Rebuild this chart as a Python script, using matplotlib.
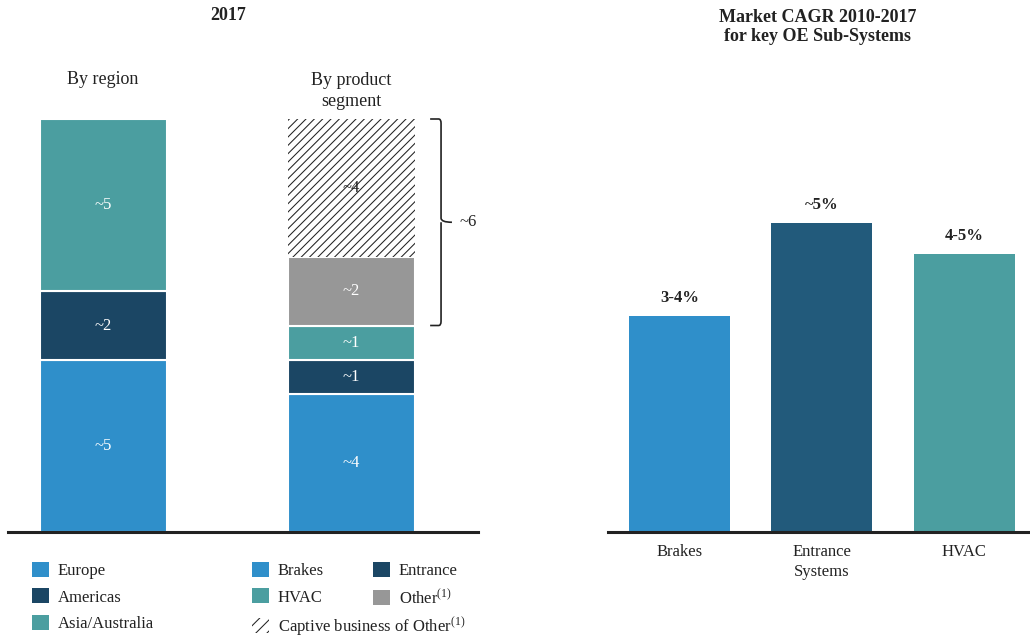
import matplotlib
matplotlib.use("Agg")
import matplotlib.pyplot as plt
from matplotlib.patches import Patch
from matplotlib.path import Path
from matplotlib.patches import PathPatch

plt.rcParams["font.family"] = ["Liberation Serif", "DejaVu Serif"]
plt.rcParams["mathtext.fontset"] = "custom"
plt.rcParams["mathtext.rm"] = "Liberation Serif"
plt.rcParams["mathtext.it"] = "Liberation Serif:italic"
plt.rcParams["mathtext.bf"] = "Liberation Serif:bold"
plt.rcParams["hatch.linewidth"] = 0.75

# ---- data ----
region_names = ["Europe", "Americas", "Asia/Australia"]
region_values = [5, 2, 5]
region_labels = ["~5", "~2", "~5"]

segment_names = ["Brakes", "Entrance", "HVAC", "Other", "Captive business of Other"]
segment_values = [4, 1, 1, 2, 4]
segment_labels = ["~4", "~1", "~1", "~2", "~4"]
other_total_label = "~6"

cagr_categories = ["Brakes", "Entrance\nSystems", "HVAC"]
cagr_values = [3.5, 5.0, 4.5]
cagr_labels = ["3-4%", "~5%", "4-5%"]

BLUE = "#2F8FCA"
NAVY = "#1B4664"
NAVY2 = "#225A7B"
TEAL = "#4B9EA0"
GREY = "#979797"

region_colors = [BLUE, NAVY, TEAL]
segment_colors = [BLUE, NAVY, TEAL, GREY, "white"]
cagr_colors = [BLUE, NAVY2, TEAL]

W, H = 1030, 637
fig = plt.figure(figsize=(W / 100, H / 100), dpi=100)


def px_axes(x0, x1, y_top, y_bottom):
    return fig.add_axes([x0 / W, 1 - y_bottom / H, (x1 - x0) / W, (y_bottom - y_top) / H])


def ftext(x, y, s, **kw):
    fig.text(x / W, 1 - y / H, s, **kw)


FS = 12
FS_HEAD = 13
HATCH = "////"

# ---- left panel: stacked composition bars ----
axl = px_axes(8, 478, 119, 532)
axl.set_xlim(-0.385, 1.510)
axl.set_ylim(0, 12)

bw = 0.512
bottom = 0
for v, c, lab in zip(region_values, region_colors, region_labels):
    axl.bar(0, v, bottom=bottom, width=bw, color=c, edgecolor="white", linewidth=1.5)
    axl.text(0, bottom + v / 2, lab, ha="center", va="center", color="white", fontsize=FS)
    bottom += v

bottom = 0
for i, (v, c, lab) in enumerate(zip(segment_values, segment_colors, segment_labels)):
    if i == len(segment_values) - 1:
        axl.bar(1, v, bottom=bottom, width=bw, color="white", edgecolor="#222222",
                linewidth=0, hatch=HATCH)
        axl.text(1, bottom + v / 2, lab, ha="center", va="center", color="#222222", fontsize=FS)
    else:
        axl.bar(1, v, bottom=bottom, width=bw, color=c, edgecolor="white", linewidth=1.5)
        axl.text(1, bottom + v / 2, lab, ha="center", va="center", color="white", fontsize=FS)
    bottom += v

# bracket around Other + captive business
b_lo = sum(segment_values[:3])
b_hi = sum(segment_values)
b_mid = (b_lo + b_hi) / 2
x_a, x_b, x_c = 1.317, 1.361, 1.405
r = 0.12
verts = [
    (x_a, b_hi), (x_b - 0.01, b_hi), (x_b, b_hi), (x_b, b_hi - r),
    (x_b, b_mid + r), (x_b, b_mid), (x_c, b_mid),
    (x_b, b_mid), (x_b, b_mid - r),
    (x_b, b_lo + r), (x_b, b_lo), (x_b - 0.01, b_lo), (x_a, b_lo),
]
codes = [
    Path.MOVETO, Path.LINETO, Path.CURVE3, Path.CURVE3,
    Path.LINETO, Path.CURVE3, Path.CURVE3,
    Path.MOVETO, Path.LINETO,
    Path.LINETO, Path.CURVE3, Path.CURVE3, Path.LINETO,
]
axl.add_patch(PathPatch(Path(verts, codes), fill=False, edgecolor="#222222",
                        linewidth=1.2, clip_on=False))
axl.text(x_c + 0.03, b_mid, other_total_label, ha="left", va="center",
         fontsize=FS, color="#222222", clip_on=False)

for side in ["top", "left", "right"]:
    axl.spines[side].set_visible(False)
axl.spines["bottom"].set_color("#222222")
axl.spines["bottom"].set_linewidth(2.2)
axl.set_xticks([])
axl.set_yticks([])

# ---- right panel: CAGR bars ----
axr = px_axes(608, 1030, 223, 532)
axr.set_xlim(-0.502, 2.463)
axr.set_ylim(0, 5)
xs = list(range(len(cagr_categories)))
bars = axr.bar(xs, cagr_values, width=0.71, color=cagr_colors)
for b, lab in zip(bars, cagr_labels):
    axr.annotate(lab, (b.get_x() + b.get_width() / 2, b.get_height()),
                 xytext=(0, 7), textcoords="offset points", ha="center", va="bottom",
                 fontsize=FS, fontweight="bold", color="#222222", annotation_clip=False)
axr.set_xticks(xs)
axr.set_xticklabels(cagr_categories, fontsize=FS, color="#222222", linespacing=1.3)
axr.tick_params(axis="x", length=0, pad=9)
axr.set_yticks([])
for side in ["top", "left", "right"]:
    axr.spines[side].set_visible(False)
axr.spines["bottom"].set_color("#222222")
axr.spines["bottom"].set_linewidth(2.2)

# ---- headings ----
ftext(228, 15, "2017", ha="center", va="center", fontsize=FS_HEAD, fontweight="bold", color="#222222")
ftext(818, 27, "Market CAGR 2010-2017\nfor key OE Sub-Systems", ha="center", va="center",
      fontsize=FS_HEAD, fontweight="bold", color="#222222", linespacing=1.2)
ftext(103, 80, "By region", ha="center", va="center", fontsize=FS_HEAD, color="#222222")
ftext(351, 91, "By product\nsegment", ha="center", va="center", fontsize=FS_HEAD, color="#222222",
      linespacing=1.25)

# ---- legends ----
leg_kw = dict(frameon=False, fontsize=FS, handlelength=1.0, handleheight=1.0,
              handletextpad=0.55, labelspacing=0.55, borderaxespad=0, borderpad=0,
              loc="upper left")


def add_legend(handles, names, x, y):
    leg = fig.legend(handles, names, bbox_to_anchor=(x / W, 1 - y / H), **leg_kw)
    for t in leg.get_texts():
        t.set_color("#222222")
    return leg


seg_legend_names = ["Brakes", "Entrance", "HVAC", "Other$^{(1)}$",
                    "Captive business of Other$^{(1)}$"]
h_reg = [Patch(facecolor=c, edgecolor="none") for c in region_colors]
h_seg = [Patch(facecolor=c, edgecolor="none") for c in segment_colors[:4]]
h_seg.append(Patch(facecolor="white", edgecolor="#222222", linewidth=0, hatch="///"))

add_legend(h_reg, region_names, 32, 562)
add_legend([h_seg[0], h_seg[2], h_seg[4]],
           [seg_legend_names[0], seg_legend_names[2], seg_legend_names[4]], 252, 562)
add_legend([h_seg[1], h_seg[3]], [seg_legend_names[1], seg_legend_names[3]], 373, 562)

fig.savefig("out.png", dpi=100)
